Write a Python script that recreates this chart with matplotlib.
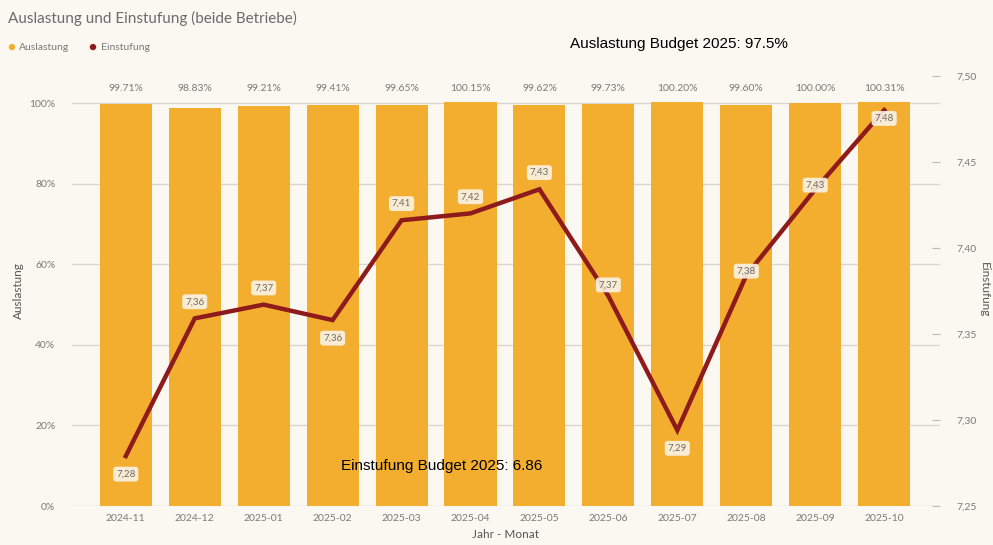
import matplotlib.pyplot as plt
import numpy as np

months = ['2024-11', '2024-12', '2025-01', '2025-02', '2025-03', '2025-04',
          '2025-05', '2025-06', '2025-07', '2025-08', '2025-09', '2025-10']
auslastung = [99.71, 98.83, 99.21, 99.41, 99.65, 100.15,
              99.62, 99.73, 100.20, 99.60, 100.00, 100.31]
einstufung = [7.279, 7.359, 7.367, 7.358, 7.416, 7.420,
              7.434, 7.372, 7.294, 7.384, 7.434, 7.480]
einst_labels = ['7,28', '7,36', '7,37', '7,36', '7,41', '7,42',
                '7,43', '7,37', '7,29', '7,38', '7,43', '7,48']
# label offset (points) relative to line point
label_dy = [-13, 12, 12, -13, 12, 12, 12, 8, -13, 3, 3, -6]
left_ticks = [0, 20, 40, 60, 80, 100]
right_ticks = [7.25, 7.30, 7.35, 7.40, 7.45, 7.50]

bg = '#FBF7F1'
bar_col = '#F3AE2F'
line_col = '#8E1B1B'
txt_col = '#7a7a7a'

plt.rcParams['font.family'] = ['Lato', 'DejaVu Sans']

fig = plt.figure(figsize=(9.93, 5.45), dpi=100, facecolor=bg)
ax = fig.add_axes([72 / 993, 1 - 506 / 545, (940 - 72) / 993, (506 - 75.7) / 545])
ax.set_facecolor(bg)

x = np.arange(len(months))
ax.bar(x, auslastung, width=0.755, color=bar_col, zorder=2)
ax.set_xlim(-0.78, 11.81)
ax.set_ylim(0, 106.8)
ax.set_yticks(left_ticks)
ax.set_yticklabels([f'{t}%' for t in left_ticks])
ax.yaxis.grid(True, color='#d9d6d0', linewidth=1, zorder=0)
ax.set_axisbelow(True)
ax.tick_params(axis='y', length=0, pad=12, labelsize=7.5, labelcolor=txt_col)
ax.set_xticks(x)
ax.set_xticklabels(months)
ax.tick_params(axis='x', length=0, pad=6, labelsize=7.5, labelcolor=txt_col)
for s in ax.spines.values():
    s.set_visible(False)

for xi, v in zip(x, auslastung):
    ax.text(xi, 103.5, f'{v:.2f}%', ha='center', va='center', fontsize=7.5, color=txt_col)

ax.set_ylabel('Auslastung', fontsize=8.5, color='#555555', labelpad=4)
ax.set_xlabel('Jahr - Monat', fontsize=8.5, color='#555555', labelpad=4)

ax2 = ax.twinx()
ax2.plot(x, einstufung, color=line_col, linewidth=3.2, solid_joinstyle='miter', zorder=5)
ax2.set_ylim(7.25, 7.50)
ax2.set_yticks(right_ticks)
ax2.set_yticklabels([f'{t:.2f}'.replace('.', ',') for t in right_ticks])
ax2.tick_params(axis='y', direction='in', length=6, color='#bdbdbd', pad=12,
                labelsize=7.5, labelcolor=txt_col)
for s in ax2.spines.values():
    s.set_visible(False)

for xi, v, lab, dy in zip(x, einstufung, einst_labels, label_dy):
    ax2.annotate(lab, (xi, v), xytext=(0, dy), textcoords='offset points',
                 ha='center', va='center', fontsize=7, color='#6b6b6b', zorder=6,
                 bbox=dict(boxstyle='round,pad=0.3', fc='#FBF3E6', ec='none', alpha=0.9))

fig.text(984 / 993, 1 - 290 / 545, 'Einstufung', rotation=270, fontsize=8.5,
         color='#555555', ha='center', va='center')

fig.text(8 / 993, 1 - 18 / 545, 'Auslastung und Einstufung (beide Betriebe)',
         fontsize=11, color='#6b6b6b', va='center')
fig.text(7 / 993, 1 - 47 / 545, '●', fontsize=9.5, color=bar_col, va='center')
fig.text(19 / 993, 1 - 47 / 545, 'Auslastung', fontsize=7.5, color=txt_col, va='center')
fig.text(88 / 993, 1 - 47 / 545, '●', fontsize=9.5, color=line_col, va='center')
fig.text(101 / 993, 1 - 47 / 545, 'Einstufung', fontsize=7.5, color=txt_col, va='center')

fig.text(570 / 993, 1 - 44 / 545, 'Auslastung Budget 2025: 97.5%', fontsize=11,
         family='Liberation Sans', color='black', va='center')
fig.text(341 / 993, 1 - 466 / 545, 'Einstufung Budget 2025: 6.86', fontsize=11,
         family='Liberation Sans', color='black', va='center', zorder=10)

fig.savefig('out.png', dpi=100, facecolor=bg)
